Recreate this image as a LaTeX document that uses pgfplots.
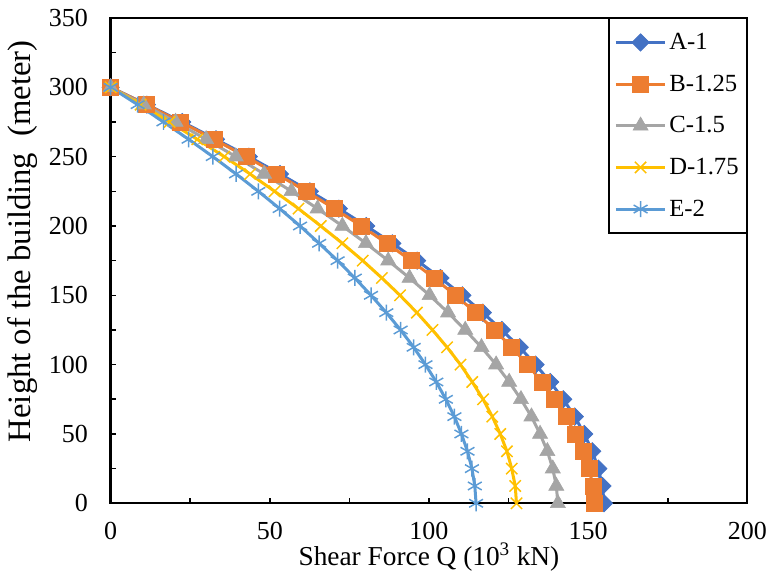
\documentclass[border=0pt]{standalone}
\usepackage{fontspec}
\setmainfont{Liberation Serif}
\usepackage{pgfplots}
\usepackage{pgfplotstable}
\pgfplotsset{compat=1.18}

\definecolor{serA}{HTML}{4472C4}
\definecolor{serB}{HTML}{ED7D31}
\definecolor{serC}{HTML}{A5A5A5}
\definecolor{serD}{HTML}{FFC000}
\definecolor{serE}{HTML}{5B9BD5}

% height z (m) against shear force Q (10^3 kN) for each case
\pgfplotstableread{
z     A     B     C     D     E
0     155.0 152.0 140.5 127.5 114.8
12.5  154.5 151.5 140.0 127.1 114.4
25    153.2 150.3 138.9 126.0 113.5
37.5  151.3 148.4 137.2 124.5 112.1
50    148.8 146.0 134.9 122.4 110.2
62.5  145.8 143.0 132.2 119.9 108.0
75    142.2 139.5 128.9 117.0 105.3
87.5  138.1 135.5 125.2 113.6 102.3
100   133.5 131.0 121.1 109.9 98.9
112.5 128.5 126.0 116.5 105.7 95.2
125   122.9 120.6 111.4 101.1 91.1
137.5 116.9 114.7 106.0 96.2  86.6
150   110.5 108.3 100.2 90.9  81.8
162.5 103.6 101.6 93.9  85.2  76.7
175   96.3  94.4  87.2  79.2  71.3
187.5 88.5  86.8  80.2  72.8  65.5
200   80.3  78.7  72.8  66.0  59.5
212.5 71.7  70.3  65.0  59.0  53.1
225   62.6  61.4  56.8  51.5  46.4
237.5 53.2  52.2  48.2  43.8  39.4
250   43.4  42.5  39.3  35.7  32.1
262.5 33.1  32.5  30.0  27.2  24.5
275   22.5  22.0  20.4  18.5  16.6
287.5 11.4  11.2  10.4  9.4   8.5
300   0     0     0     0     0
}\shear

\begin{document}
\begin{tikzpicture}
\begin{axis}[
  scale only axis, width=477.5pt, height=364pt,
  xmin=0, xmax=200, ymin=0, ymax=350,
  xtick={0,50,...,200}, ytick={0,50,...,350}, minor tick num=1,
  tick pos=left, tick align=inside,
  major tick length=4pt, minor tick length=4pt,
  tick style={black, line width=1.2pt},
  axis line style={black, line width=1.8pt},
  /pgf/number format/assume math mode=true,
  ticklabel style={font=\fontsize{19.5}{22}\selectfont},
  xticklabel style={yshift=-11pt},
  yticklabel style={xshift=-13.5pt},
  xlabel={Shear Force Q (10\textsuperscript{3} kN)},
  ylabel={Height of the building\ \ (meter)},
  xlabel style={font=\fontsize{20.5}{24}\selectfont, yshift=5pt},
  ylabel style={font=\fontsize{24.5}{28}\selectfont, at={(rel axis cs:-0.139,0.54)}, anchor=center},
  legend cell align=left,
  legend style={at={(1,1)}, anchor=north east, draw=black, line width=1pt,
    font=\fontsize{18.5}{22}\selectfont, row sep=13.5pt, inner xsep=4pt, inner ysep=9pt},
  legend image code/.code={\draw[mark repeat=2,mark phase=2] plot coordinates {(0pt,0pt) (18.5pt,0pt) (37pt,0pt)};},
  every axis plot/.append style={line width=2.25pt},
]
\coordinate (bl) at (rel axis cs:0,0);
\coordinate (tr) at (rel axis cs:1,1);
\addplot[color=serA, mark=square*, mark size=4.6pt, mark options={rotate=45, fill=serA, draw=serA, line width=0.5pt}] table[x=A, y=z] {\shear};
\addlegendentry{A-1}
\addplot[color=serB, mark=square*, mark size=6pt, mark options={fill=serB, draw=serB, line width=0.5pt}] table[x=B, y=z] {\shear};
\addlegendentry{B-1.25}
\addplot[color=serC, mark=triangle*, mark size=6.5pt, mark options={fill=serC, draw=serC, line width=0.5pt}] table[x=C, y=z] {\shear};
\addlegendentry{C-1.5}
\addplot[color=serD, mark=x, mark size=6pt, mark options={draw=serD, line width=1.1pt}] table[x=D, y=z] {\shear};
\addlegendentry{D-1.75}
\addplot[color=serE, mark=asterisk, mark size=6pt, mark options={draw=serE, line width=1.1pt}] table[x=E, y=z] {\shear};
\addlegendentry{E-2}
\end{axis}
\pgfresetboundingbox
\path[use as bounding box] ([xshift=-83pt,yshift=-58.3pt]bl) rectangle ([xshift=19.3pt,yshift=13.5pt]tr);
\end{tikzpicture}
\end{document}
